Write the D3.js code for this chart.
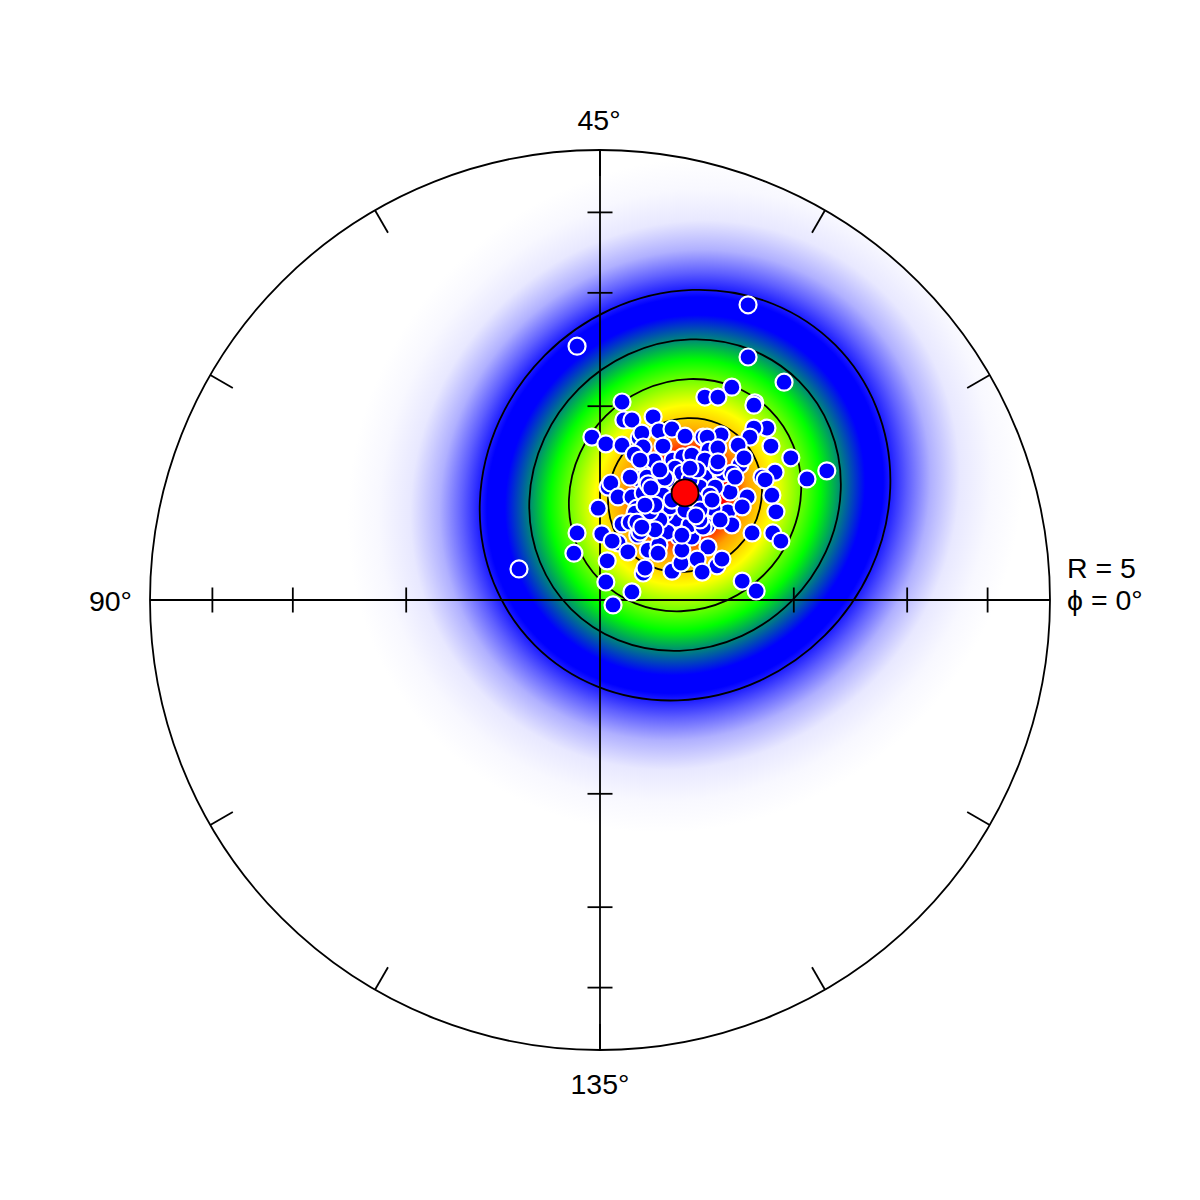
<!DOCTYPE html>
<html><head><meta charset="utf-8">
<script src="https://cdn.jsdelivr.net/npm/d3@7"></script>
<style>html,body{margin:0;padding:0;background:#fff}svg{display:block}text{font-family:"Liberation Sans",Arial,sans-serif;fill:#000}</style>
</head><body><div id="chart"></div>
<script>
// Rf/phi style polar plot: radius is log(R), plotted angle is 2*phi.
const rMax = 5;
const radialTicks = [2, 3, 4];
const phiTicks = [0, 15, 30, 45, 60, 75, 90, 105, 120, 135, 150, 165];
const phiLabels = [45, 90, 135];
const rimLabels = ["R = 5", "ϕ = 0°"];

// Harmonic components of each sample: log5(R)*cos(2phi), log5(R)*sin(2phi)
const xComp = [.329,-.051,-.180,.329,.409,.293,.233,.262,.344,.342,.049,.053,.071,.118,-.018,.013,.049,.087,.093,.131,.160,.189,.096,.140,.076,.093,.120,.162,.184,.204,.167,.182,.149,.087,.104,.111,.118,.118,.018,.024,.040,.071,.096,.140,.371,.342,.333,.307,.380,.424,.311,.320,.269,.229,.238,.242,.262,.233,.460,.504,.389,.360,.367,.273,.293,.233,.260,.289,.327,.382,.222,.256,-.004,.082,.078,.109,.049,.067,.169,.084,.089,.176,.149,-.051,.004,.040,.027,-.058,.062,.107,.131,.129,.016,.096,.100,.160,.180,.182,.013,.071,.029,.144,.156,.133,.224,.240,.284,.293,.316,.391,.338,.384,.402,.238,.204,.240,.216,.260,.271,.227,.316,.347,.200,.182,.262,.300,.089,.104,.144,.067,.111,.229,.204,.251,.200,.216,.189,.222,.267,.122,.160,.244,.211,.107,.113,.082,.093,.222,.213,.249,.200,.133,.122,.100];
const yComp = [.656,.564,.069,.540,.484,.473,.451,.451,.438,.433,.440,.400,.400,.407,.362,.347,.344,.360,.371,.376,.380,.364,.340,.342,.324,.307,.309,.311,.318,.322,.293,.282,.267,.269,.262,.256,.260,.242,.251,.260,.229,.229,.238,.233,.382,.382,.362,.344,.342,.316,.300,.316,.367,.362,.362,.333,.338,.311,.269,.287,.284,.273,.267,.282,.282,.273,.296,.240,.229,.233,.251,.251,.204,.204,.193,.193,.169,.173,.180,.144,.151,.140,.151,.149,.147,.127,.131,.104,.107,.111,.122,.104,.087,.060,.071,.064,.082,.111,.040,.018,-.011,.193,.207,.178,.211,.211,.196,.167,.207,.196,.149,.149,.131,.164,.140,.118,.091,.076,.091,.062,.042,.020,.167,.144,.307,.273,.311,.273,.271,.273,.196,.162,.196,.204,.267,.289,.200,.178,.178,.156,.222,.233,.222,.258,.249,.173,.162,.200,.187,.222,.293,.289,.211,.211];
const meanX = [.189], meanY = [.238];

// Density contours (semi-size in log units) and density colour ramp
const contourCentre = [.189, .233];
const contourSizes = [.456, .346, .258, .171];
const rampDistance = [0, .089, .138, .2, .3, .349, .4, .44, .495, .545, .61, .68, .75];
const rampColour = ["#ff0000","#ff0000","#ffa000","#ffff00","#00ff00","#008080","#0000ff","#0000ff","#6060ff","#b0b0ff","#e8e8ff","#f8f8ff","#ffffff"];
const tilt = [1.035, .965];

const size = 1200, cx = 600, cy = 600, radius = 450;
const rScale = d3.scaleLog().domain([1, rMax]).range([0, radius]);
const xS = d3.scaleLinear().domain([-1, 1]).range([cx - radius, cx + radius]);
const yS = d3.scaleLinear().domain([-1, 1]).range([cy + radius, cy - radius]);
const unit = d3.scaleLinear().domain([0, 1]).range([0, radius]);

const svg = d3.select("#chart").append("svg").attr("width", size).attr("height", size);
const defs = svg.append("defs");
const rampMax = rampDistance[rampDistance.length - 1];
const grad = defs.append("radialGradient").attr("id", "heat")
  .attr("gradientUnits", "userSpaceOnUse").attr("cx", 0).attr("cy", 0).attr("r", unit(rampMax))
  .attr("gradientTransform", `translate(${xS(contourCentre[0])},${yS(contourCentre[1])}) rotate(-45) scale(${tilt[0]},${tilt[1]})`);
grad.selectAll("stop").data(rampDistance).join("stop")
  .attr("offset", d => d / rampMax).attr("stop-color", (d, i) => rampColour[i]);

svg.append("circle").attr("cx", cx).attr("cy", cy).attr("r", radius).attr("fill", "url(#heat)");

const ink = g => g.attr("stroke", "#000").attr("stroke-width", 1.8).attr("fill", "none");

// contours
svg.append("g").call(ink).selectAll("ellipse").data(contourSizes).join("ellipse")
  .attr("rx", d => unit(d) * tilt[0]).attr("ry", d => unit(d) * tilt[1])
  .attr("transform", `translate(${xS(contourCentre[0])},${yS(contourCentre[1])}) rotate(-45)`);

// axes
const axes = svg.append("g").call(ink);
axes.append("circle").attr("cx", cx).attr("cy", cy).attr("r", radius);
axes.append("line").attr("x1", cx - radius).attr("x2", cx + radius).attr("y1", cy).attr("y2", cy);
axes.append("line").attr("x1", cx).attr("x2", cx).attr("y1", cy - radius).attr("y2", cy + radius);
const tickHalf = 12.5, rimTick = 26;
radialTicks.forEach(t => {
  const r = rScale(t);
  [-1, 1].forEach(s => {
    axes.append("line").attr("x1", cx + s * r).attr("x2", cx + s * r).attr("y1", cy - tickHalf).attr("y2", cy + tickHalf);
    axes.append("line").attr("x1", cx - tickHalf).attr("x2", cx + tickHalf).attr("y1", cy + s * r).attr("y2", cy + s * r);
  });
});
axes.selectAll("line.rim").data(phiTicks).join("line").attr("class", "rim")
  .attr("x1", d => cx + radius * Math.cos(2 * d * Math.PI / 180))
  .attr("y1", d => cy - radius * Math.sin(2 * d * Math.PI / 180))
  .attr("x2", d => cx + (radius - rimTick) * Math.cos(2 * d * Math.PI / 180))
  .attr("y2", d => cy - (radius - rimTick) * Math.sin(2 * d * Math.PI / 180));

// samples
svg.append("g").selectAll("circle").data(xComp).join("circle")
  .attr("cx", d => xS(d)).attr("cy", (d, i) => yS(yComp[i])).attr("r", 8.5)
  .attr("fill", "#0000ff").attr("stroke", "#fff").attr("stroke-width", 2.2);
svg.append("g").selectAll("circle").data(meanX).join("circle")
  .attr("cx", d => xS(d)).attr("cy", (d, i) => yS(meanY[i])).attr("r", 13.5)
  .attr("fill", "#ff0000").attr("stroke", "#000").attr("stroke-width", 1.8);

// labels
const lab = svg.append("g").attr("font-size", 28.5);
lab.append("text").attr("x", cx - 1).attr("y", 130).attr("text-anchor", "middle").text(phiLabels[0] + "°");
lab.append("text").attr("x", 132).attr("y", 611).attr("text-anchor", "end").text(phiLabels[1] + "°");
lab.append("text").attr("x", cx).attr("y", 1094).attr("text-anchor", "middle").text(phiLabels[2] + "°");
lab.append("text").attr("x", 1067).attr("y", 578).text(rimLabels[0]);
lab.append("text").attr("x", 1067).attr("y", 610).text(rimLabels[1]);
</script></body></html>
